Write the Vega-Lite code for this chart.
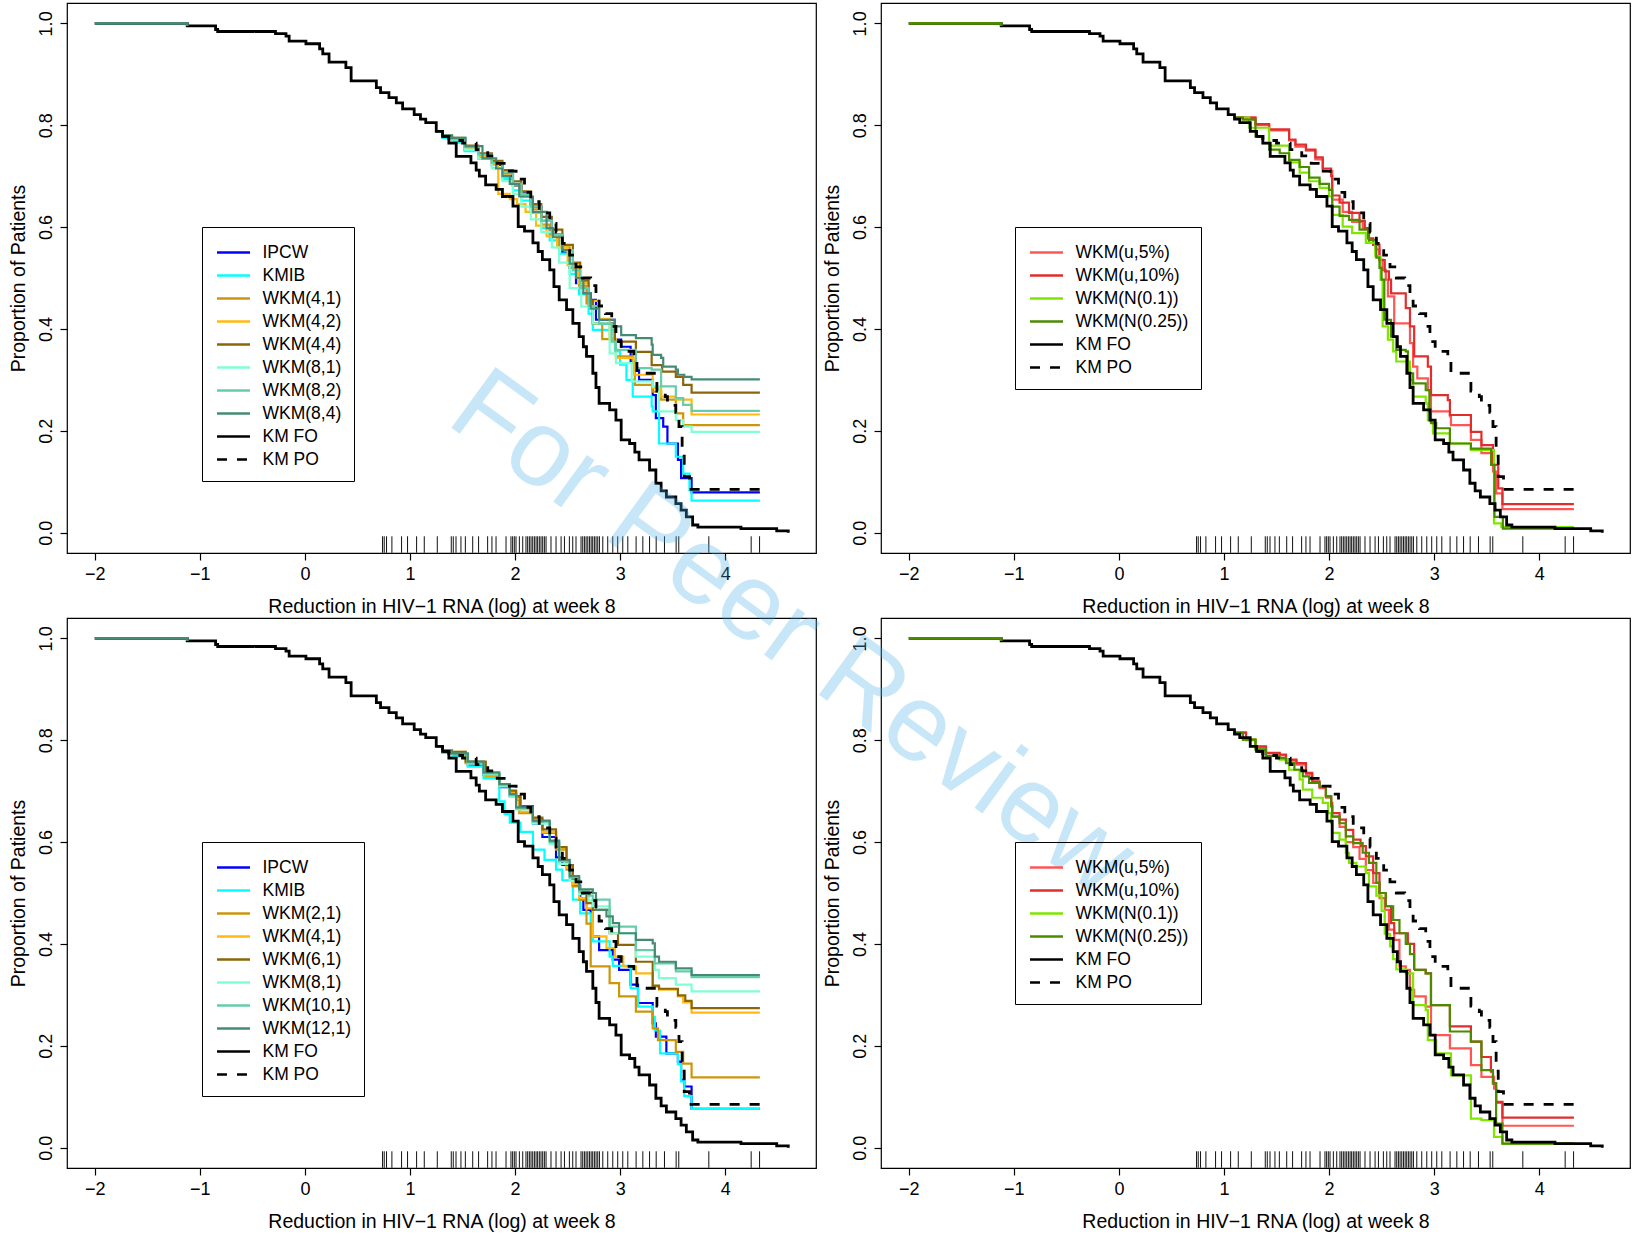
{
"$schema": "https://vega.github.io/schema/vega-lite/v6.json",
"padding": {"left": 7, "top": 2, "right": 5, "bottom": 5},
"background": "white",
"bounds": "flush",
"spacing": 65,
"columns": 2,
"config": {
 "font": "Liberation Sans",
 "view": {"stroke": "#000000", "strokeWidth": 1.2},
 "axis": {"domain": false, "grid": false, "tickColor": "#000000", "tickSize": 7, "tickWidth": 1.2, "labelColor": "#000000", "labelFont": "Liberation Sans", "labelFontSize": 18, "titleFont": "Liberation Sans", "titleFontSize": 19.5, "titleFontWeight": "normal", "titleColor": "#000000", "labelFlush": false},
 "legend": {"strokeColor": "#000000", "strokeWidth": 1, "fillColor": "transparent", "padding": 12.5, "symbolSize": 529, "symbolStrokeWidth": 2.6, "symbolOffset": 6, "labelOffset": 16, "rowPadding": 1, "labelFont": "Liberation Sans", "labelFontSize": 17.5, "labelColor": "#000000", "labelLimit": 300}
},
"resolve": {"scale": {"color": "independent", "strokeDash": "independent"}, "legend": {"color": "independent", "strokeDash": "independent"}},
"datasets": {
"rug": [{"x":0.739},{"x":0.755},{"x":0.777},{"x":0.828},{"x":0.92},{"x":0.977},{"x":1.063},{"x":1.136},{"x":1.26},{"x":1.393},{"x":1.412},{"x":1.438},{"x":1.485},{"x":1.527},{"x":1.597},{"x":1.653},{"x":1.739},{"x":1.78},{"x":1.819},{"x":1.914},{"x":1.961},{"x":1.977},{"x":1.993},{"x":2.009},{"x":2.041},{"x":2.073},{"x":2.104},{"x":2.12},{"x":2.136},{"x":2.152},{"x":2.168},{"x":2.184},{"x":2.2},{"x":2.215},{"x":2.231},{"x":2.247},{"x":2.263},{"x":2.279},{"x":2.295},{"x":2.342},{"x":2.39},{"x":2.438},{"x":2.47},{"x":2.517},{"x":2.549},{"x":2.58},{"x":2.628},{"x":2.644},{"x":2.66},{"x":2.676},{"x":2.692},{"x":2.708},{"x":2.724},{"x":2.739},{"x":2.755},{"x":2.771},{"x":2.787},{"x":2.803},{"x":2.835},{"x":2.882},{"x":2.93},{"x":2.977},{"x":3.025},{"x":3.073},{"x":3.152},{"x":3.216},{"x":3.28},{"x":3.343},{"x":3.422},{"x":3.533},{"x":3.558},{"x":3.844},{"x":4.247},{"x":4.327}],
"wm": [{"t": "For Peer Review"}],
"base": [
{"s":"KM FO","x":-2,"y":1},{"s":"KM FO","x":-1.12,"y":0.995},{"s":"KM FO","x":-0.85,"y":0.988},{"s":"KM FO","x":-0.83,"y":0.984},{"s":"KM FO","x":-0.28,"y":0.98},{"s":"KM FO","x":-0.18,"y":0.975},{"s":"KM FO","x":-0.15,"y":0.965},{"s":"KM FO","x":0.01,"y":0.96},{"s":"KM FO","x":0.14,"y":0.95},{"s":"KM FO","x":0.17,"y":0.94},{"s":"KM FO","x":0.23,"y":0.924},{"s":"KM FO","x":0.39,"y":0.913},{"s":"KM FO","x":0.44,"y":0.887},{"s":"KM FO","x":0.68,"y":0.874},{"s":"KM FO","x":0.72,"y":0.864},{"s":"KM FO","x":0.8,"y":0.854},{"s":"KM FO","x":0.87,"y":0.844},{"s":"KM FO","x":0.93,"y":0.832},{"s":"KM FO","x":1.04,"y":0.821},{"s":"KM FO","x":1.1,"y":0.812},{"s":"KM FO","x":1.15,"y":0.805},{"s":"KM FO","x":1.25,"y":0.788},{"s":"KM FO","x":1.31,"y":0.778},{"s":"KM FO","x":1.37,"y":0.765},{"s":"KM FO","x":1.44,"y":0.739},{"s":"KM FO","x":1.58,"y":0.726},{"s":"KM FO","x":1.63,"y":0.712},{"s":"KM FO","x":1.66,"y":0.7},{"s":"KM FO","x":1.72,"y":0.683},{"s":"KM FO","x":1.82,"y":0.674},{"s":"KM FO","x":1.88,"y":0.66},{"s":"KM FO","x":1.98,"y":0.641},{"s":"KM FO","x":2.03,"y":0.601},{"s":"KM FO","x":2.09,"y":0.592},{"s":"KM FO","x":2.17,"y":0.569},{"s":"KM FO","x":2.22,"y":0.552},{"s":"KM FO","x":2.26,"y":0.536},{"s":"KM FO","x":2.33,"y":0.516},{"s":"KM FO","x":2.37,"y":0.483},{"s":"KM FO","x":2.42,"y":0.457},{"s":"KM FO","x":2.49,"y":0.438},{"s":"KM FO","x":2.55,"y":0.411},{"s":"KM FO","x":2.61,"y":0.385},{"s":"KM FO","x":2.65,"y":0.365},{"s":"KM FO","x":2.68,"y":0.346},{"s":"KM FO","x":2.74,"y":0.313},{"s":"KM FO","x":2.77,"y":0.285},{"s":"KM FO","x":2.8,"y":0.254},{"s":"KM FO","x":2.9,"y":0.241},{"s":"KM FO","x":2.96,"y":0.221},{"s":"KM FO","x":3.01,"y":0.182},{"s":"KM FO","x":3.09,"y":0.175},{"s":"KM FO","x":3.14,"y":0.158},{"s":"KM FO","x":3.18,"y":0.143},{"s":"KM FO","x":3.28,"y":0.123},{"s":"KM FO","x":3.34,"y":0.097},{"s":"KM FO","x":3.39,"y":0.082},{"s":"KM FO","x":3.44,"y":0.07},{"s":"KM FO","x":3.53,"y":0.057},{"s":"KM FO","x":3.58,"y":0.044},{"s":"KM FO","x":3.63,"y":0.031},{"s":"KM FO","x":3.69,"y":0.015},{"s":"KM FO","x":3.74,"y":0.011},{"s":"KM FO","x":4.15,"y":0.008},{"s":"KM FO","x":4.49,"y":0.0035},{"s":"KM FO","x":4.6,"y":0},
{"s":"KM PO","x":1.31,"y":0.778},{"s":"KM PO","x":1.37,"y":0.77},{"s":"KM PO","x":1.5,"y":0.765},{"s":"KM PO","x":1.63,"y":0.752},{"s":"KM PO","x":1.74,"y":0.74},{"s":"KM PO","x":1.83,"y":0.725},{"s":"KM PO","x":1.91,"y":0.71},{"s":"KM PO","x":2.01,"y":0.694},{"s":"KM PO","x":2.09,"y":0.668},{"s":"KM PO","x":2.15,"y":0.65},{"s":"KM PO","x":2.23,"y":0.628},{"s":"KM PO","x":2.33,"y":0.607},{"s":"KM PO","x":2.39,"y":0.59},{"s":"KM PO","x":2.45,"y":0.568},{"s":"KM PO","x":2.52,"y":0.545},{"s":"KM PO","x":2.58,"y":0.522},{"s":"KM PO","x":2.64,"y":0.5},{"s":"KM PO","x":2.72,"y":0.485},{"s":"KM PO","x":2.77,"y":0.465},{"s":"KM PO","x":2.8,"y":0.445},{"s":"KM PO","x":2.86,"y":0.43},{"s":"KM PO","x":2.92,"y":0.405},{"s":"KM PO","x":2.96,"y":0.375},{"s":"KM PO","x":3.01,"y":0.356},{"s":"KM PO","x":3.13,"y":0.345},{"s":"KM PO","x":3.16,"y":0.313},{"s":"KM PO","x":3.35,"y":0.278},{"s":"KM PO","x":3.43,"y":0.267},{"s":"KM PO","x":3.45,"y":0.25},{"s":"KM PO","x":3.53,"y":0.236},{"s":"KM PO","x":3.56,"y":0.208},{"s":"KM PO","x":3.59,"y":0.15},{"s":"KM PO","x":3.61,"y":0.11},{"s":"KM PO","x":3.66,"y":0.085},{"s":"KM PO","x":4.33,"y":0.085}
],
"tl": [
{"s":"IPCW","x":1.25,"y":0.788},{"s":"IPCW","x":1.31,"y":0.776},{"s":"IPCW","x":1.4,"y":0.768},{"s":"IPCW","x":1.52,"y":0.752},{"s":"IPCW","x":1.65,"y":0.738},{"s":"IPCW","x":1.78,"y":0.722},{"s":"IPCW","x":1.88,"y":0.7},{"s":"IPCW","x":1.98,"y":0.682},{"s":"IPCW","x":2.06,"y":0.668},{"s":"IPCW","x":2.15,"y":0.64},{"s":"IPCW","x":2.25,"y":0.612},{"s":"IPCW","x":2.35,"y":0.585},{"s":"IPCW","x":2.45,"y":0.55},{"s":"IPCW","x":2.52,"y":0.52},{"s":"IPCW","x":2.58,"y":0.49},{"s":"IPCW","x":2.61,"y":0.47},{"s":"IPCW","x":2.72,"y":0.457},{"s":"IPCW","x":2.77,"y":0.418},{"s":"IPCW","x":2.95,"y":0.379},{"s":"IPCW","x":3.01,"y":0.365},{"s":"IPCW","x":3.1,"y":0.336},{"s":"IPCW","x":3.14,"y":0.32},{"s":"IPCW","x":3.18,"y":0.3},{"s":"IPCW","x":3.31,"y":0.27},{"s":"IPCW","x":3.34,"y":0.225},{"s":"IPCW","x":3.41,"y":0.208},{"s":"IPCW","x":3.45,"y":0.175},{"s":"IPCW","x":3.55,"y":0.143},{"s":"IPCW","x":3.58,"y":0.107},{"s":"IPCW","x":3.68,"y":0.079},{"s":"IPCW","x":4.33,"y":0.079},
{"s":"KMIB","x":1.25,"y":0.788},{"s":"KMIB","x":1.31,"y":0.775},{"s":"KMIB","x":1.4,"y":0.766},{"s":"KMIB","x":1.52,"y":0.749},{"s":"KMIB","x":1.65,"y":0.734},{"s":"KMIB","x":1.78,"y":0.716},{"s":"KMIB","x":1.88,"y":0.694},{"s":"KMIB","x":1.98,"y":0.672},{"s":"KMIB","x":2.06,"y":0.652},{"s":"KMIB","x":2.15,"y":0.628},{"s":"KMIB","x":2.25,"y":0.598},{"s":"KMIB","x":2.33,"y":0.574},{"s":"KMIB","x":2.42,"y":0.548},{"s":"KMIB","x":2.52,"y":0.508},{"s":"KMIB","x":2.61,"y":0.468},{"s":"KMIB","x":2.7,"y":0.43},{"s":"KMIB","x":2.74,"y":0.398},{"s":"KMIB","x":2.95,"y":0.356},{"s":"KMIB","x":3.0,"y":0.33},{"s":"KMIB","x":3.06,"y":0.3},{"s":"KMIB","x":3.12,"y":0.267},{"s":"KMIB","x":3.3,"y":0.248},{"s":"KMIB","x":3.31,"y":0.238},{"s":"KMIB","x":3.37,"y":0.175},{"s":"KMIB","x":3.53,"y":0.149},{"s":"KMIB","x":3.6,"y":0.116},{"s":"KMIB","x":3.66,"y":0.083},{"s":"KMIB","x":3.68,"y":0.063},{"s":"KMIB","x":4.33,"y":0.063},
{"s":"WKM(4,1)","x":1.25,"y":0.788},{"s":"WKM(4,1)","x":1.31,"y":0.779},{"s":"WKM(4,1)","x":1.4,"y":0.772},{"s":"WKM(4,1)","x":1.52,"y":0.755},{"s":"WKM(4,1)","x":1.65,"y":0.742},{"s":"WKM(4,1)","x":1.78,"y":0.725},{"s":"WKM(4,1)","x":1.88,"y":0.705},{"s":"WKM(4,1)","x":1.98,"y":0.682},{"s":"WKM(4,1)","x":2.06,"y":0.66},{"s":"WKM(4,1)","x":2.15,"y":0.635},{"s":"WKM(4,1)","x":2.25,"y":0.605},{"s":"WKM(4,1)","x":2.33,"y":0.585},{"s":"WKM(4,1)","x":2.42,"y":0.56},{"s":"WKM(4,1)","x":2.52,"y":0.52},{"s":"WKM(4,1)","x":2.61,"y":0.485},{"s":"WKM(4,1)","x":2.68,"y":0.45},{"s":"WKM(4,1)","x":2.74,"y":0.411},{"s":"WKM(4,1)","x":2.83,"y":0.38},{"s":"WKM(4,1)","x":2.96,"y":0.346},{"s":"WKM(4,1)","x":3.12,"y":0.333},{"s":"WKM(4,1)","x":3.14,"y":0.29},{"s":"WKM(4,1)","x":3.31,"y":0.277},{"s":"WKM(4,1)","x":3.39,"y":0.261},{"s":"WKM(4,1)","x":3.53,"y":0.234},{"s":"WKM(4,1)","x":3.6,"y":0.211},{"s":"WKM(4,1)","x":4.33,"y":0.211},
{"s":"WKM(4,2)","x":1.25,"y":0.788},{"s":"WKM(4,2)","x":1.31,"y":0.779},{"s":"WKM(4,2)","x":1.4,"y":0.772},{"s":"WKM(4,2)","x":1.52,"y":0.755},{"s":"WKM(4,2)","x":1.65,"y":0.74},{"s":"WKM(4,2)","x":1.78,"y":0.722},{"s":"WKM(4,2)","x":1.84,"y":0.665},{"s":"WKM(4,2)","x":1.95,"y":0.655},{"s":"WKM(4,2)","x":2.02,"y":0.645},{"s":"WKM(4,2)","x":2.1,"y":0.63},{"s":"WKM(4,2)","x":2.2,"y":0.603},{"s":"WKM(4,2)","x":2.3,"y":0.582},{"s":"WKM(4,2)","x":2.4,"y":0.56},{"s":"WKM(4,2)","x":2.5,"y":0.525},{"s":"WKM(4,2)","x":2.6,"y":0.49},{"s":"WKM(4,2)","x":2.7,"y":0.455},{"s":"WKM(4,2)","x":2.8,"y":0.42},{"s":"WKM(4,2)","x":2.9,"y":0.38},{"s":"WKM(4,2)","x":2.96,"y":0.343},{"s":"WKM(4,2)","x":3.13,"y":0.31},{"s":"WKM(4,2)","x":3.31,"y":0.284},{"s":"WKM(4,2)","x":3.39,"y":0.267},{"s":"WKM(4,2)","x":3.53,"y":0.261},{"s":"WKM(4,2)","x":3.68,"y":0.232},{"s":"WKM(4,2)","x":4.33,"y":0.232},
{"s":"WKM(4,4)","x":1.25,"y":0.788},{"s":"WKM(4,4)","x":1.31,"y":0.779},{"s":"WKM(4,4)","x":1.4,"y":0.775},{"s":"WKM(4,4)","x":1.52,"y":0.76},{"s":"WKM(4,4)","x":1.65,"y":0.745},{"s":"WKM(4,4)","x":1.78,"y":0.73},{"s":"WKM(4,4)","x":1.88,"y":0.712},{"s":"WKM(4,4)","x":1.98,"y":0.69},{"s":"WKM(4,4)","x":2.06,"y":0.67},{"s":"WKM(4,4)","x":2.15,"y":0.645},{"s":"WKM(4,4)","x":2.25,"y":0.62},{"s":"WKM(4,4)","x":2.35,"y":0.595},{"s":"WKM(4,4)","x":2.45,"y":0.565},{"s":"WKM(4,4)","x":2.55,"y":0.53},{"s":"WKM(4,4)","x":2.62,"y":0.495},{"s":"WKM(4,4)","x":2.7,"y":0.455},{"s":"WKM(4,4)","x":2.74,"y":0.411},{"s":"WKM(4,4)","x":2.95,"y":0.375},{"s":"WKM(4,4)","x":3.15,"y":0.355},{"s":"WKM(4,4)","x":3.3,"y":0.329},{"s":"WKM(4,4)","x":3.4,"y":0.316},{"s":"WKM(4,4)","x":3.53,"y":0.306},{"s":"WKM(4,4)","x":3.6,"y":0.29},{"s":"WKM(4,4)","x":3.68,"y":0.275},{"s":"WKM(4,4)","x":4.33,"y":0.275},
{"s":"WKM(8,1)","x":1.25,"y":0.788},{"s":"WKM(8,1)","x":1.31,"y":0.777},{"s":"WKM(8,1)","x":1.4,"y":0.77},{"s":"WKM(8,1)","x":1.52,"y":0.752},{"s":"WKM(8,1)","x":1.65,"y":0.735},{"s":"WKM(8,1)","x":1.78,"y":0.715},{"s":"WKM(8,1)","x":1.88,"y":0.69},{"s":"WKM(8,1)","x":1.98,"y":0.665},{"s":"WKM(8,1)","x":2.06,"y":0.64},{"s":"WKM(8,1)","x":2.15,"y":0.615},{"s":"WKM(8,1)","x":2.25,"y":0.59},{"s":"WKM(8,1)","x":2.35,"y":0.56},{"s":"WKM(8,1)","x":2.42,"y":0.53},{"s":"WKM(8,1)","x":2.52,"y":0.48},{"s":"WKM(8,1)","x":2.63,"y":0.444},{"s":"WKM(8,1)","x":2.74,"y":0.411},{"s":"WKM(8,1)","x":2.9,"y":0.352},{"s":"WKM(8,1)","x":2.96,"y":0.333},{"s":"WKM(8,1)","x":3.11,"y":0.297},{"s":"WKM(8,1)","x":3.31,"y":0.287},{"s":"WKM(8,1)","x":3.37,"y":0.238},{"s":"WKM(8,1)","x":3.53,"y":0.221},{"s":"WKM(8,1)","x":3.6,"y":0.208},{"s":"WKM(8,1)","x":3.68,"y":0.198},{"s":"WKM(8,1)","x":4.33,"y":0.198},
{"s":"WKM(8,2)","x":1.25,"y":0.788},{"s":"WKM(8,2)","x":1.31,"y":0.779},{"s":"WKM(8,2)","x":1.4,"y":0.772},{"s":"WKM(8,2)","x":1.52,"y":0.757},{"s":"WKM(8,2)","x":1.65,"y":0.742},{"s":"WKM(8,2)","x":1.78,"y":0.726},{"s":"WKM(8,2)","x":1.88,"y":0.708},{"s":"WKM(8,2)","x":1.98,"y":0.685},{"s":"WKM(8,2)","x":2.06,"y":0.665},{"s":"WKM(8,2)","x":2.15,"y":0.64},{"s":"WKM(8,2)","x":2.25,"y":0.612},{"s":"WKM(8,2)","x":2.35,"y":0.585},{"s":"WKM(8,2)","x":2.45,"y":0.555},{"s":"WKM(8,2)","x":2.55,"y":0.515},{"s":"WKM(8,2)","x":2.62,"y":0.48},{"s":"WKM(8,2)","x":2.7,"y":0.445},{"s":"WKM(8,2)","x":2.8,"y":0.41},{"s":"WKM(8,2)","x":2.92,"y":0.375},{"s":"WKM(8,2)","x":2.96,"y":0.359},{"s":"WKM(8,2)","x":3.15,"y":0.323},{"s":"WKM(8,2)","x":3.3,"y":0.32},{"s":"WKM(8,2)","x":3.39,"y":0.287},{"s":"WKM(8,2)","x":3.53,"y":0.264},{"s":"WKM(8,2)","x":3.6,"y":0.251},{"s":"WKM(8,2)","x":3.68,"y":0.239},{"s":"WKM(8,2)","x":4.33,"y":0.239},
{"s":"WKM(8,4)","x":1.25,"y":0.788},{"s":"WKM(8,4)","x":1.31,"y":0.78},{"s":"WKM(8,4)","x":1.4,"y":0.775},{"s":"WKM(8,4)","x":1.53,"y":0.759},{"s":"WKM(8,4)","x":1.69,"y":0.735},{"s":"WKM(8,4)","x":1.82,"y":0.715},{"s":"WKM(8,4)","x":1.88,"y":0.7},{"s":"WKM(8,4)","x":1.95,"y":0.685},{"s":"WKM(8,4)","x":2.04,"y":0.66},{"s":"WKM(8,4)","x":2.17,"y":0.63},{"s":"WKM(8,4)","x":2.3,"y":0.598},{"s":"WKM(8,4)","x":2.36,"y":0.58},{"s":"WKM(8,4)","x":2.45,"y":0.555},{"s":"WKM(8,4)","x":2.52,"y":0.528},{"s":"WKM(8,4)","x":2.58,"y":0.5},{"s":"WKM(8,4)","x":2.65,"y":0.47},{"s":"WKM(8,4)","x":2.72,"y":0.44},{"s":"WKM(8,4)","x":2.8,"y":0.418},{"s":"WKM(8,4)","x":2.95,"y":0.405},{"s":"WKM(8,4)","x":3.01,"y":0.388},{"s":"WKM(8,4)","x":3.15,"y":0.382},{"s":"WKM(8,4)","x":3.3,"y":0.369},{"s":"WKM(8,4)","x":3.31,"y":0.349},{"s":"WKM(8,4)","x":3.39,"y":0.343},{"s":"WKM(8,4)","x":3.41,"y":0.326},{"s":"WKM(8,4)","x":3.53,"y":0.32},{"s":"WKM(8,4)","x":3.55,"y":0.31},{"s":"WKM(8,4)","x":3.61,"y":0.306},{"s":"WKM(8,4)","x":3.68,"y":0.301},{"s":"WKM(8,4)","x":4.33,"y":0.301}
],
"bl": [
{"s":"IPCW","x":1.25,"y":0.788},{"s":"IPCW","x":1.31,"y":0.776},{"s":"IPCW","x":1.4,"y":0.77},{"s":"IPCW","x":1.55,"y":0.752},{"s":"IPCW","x":1.7,"y":0.732},{"s":"IPCW","x":1.85,"y":0.708},{"s":"IPCW","x":1.95,"y":0.69},{"s":"IPCW","x":2.05,"y":0.67},{"s":"IPCW","x":2.17,"y":0.636},{"s":"IPCW","x":2.26,"y":0.61},{"s":"IPCW","x":2.39,"y":0.57},{"s":"IPCW","x":2.45,"y":0.555},{"s":"IPCW","x":2.55,"y":0.515},{"s":"IPCW","x":2.62,"y":0.487},{"s":"IPCW","x":2.65,"y":0.467},{"s":"IPCW","x":2.72,"y":0.461},{"s":"IPCW","x":2.74,"y":0.415},{"s":"IPCW","x":2.8,"y":0.388},{"s":"IPCW","x":2.93,"y":0.369},{"s":"IPCW","x":2.99,"y":0.349},{"s":"IPCW","x":3.1,"y":0.32},{"s":"IPCW","x":3.17,"y":0.284},{"s":"IPCW","x":3.31,"y":0.244},{"s":"IPCW","x":3.34,"y":0.218},{"s":"IPCW","x":3.44,"y":0.185},{"s":"IPCW","x":3.55,"y":0.169},{"s":"IPCW","x":3.58,"y":0.133},{"s":"IPCW","x":3.61,"y":0.12},{"s":"IPCW","x":3.68,"y":0.076},{"s":"IPCW","x":4.33,"y":0.076},
{"s":"KMIB","x":1.25,"y":0.788},{"s":"KMIB","x":1.31,"y":0.775},{"s":"KMIB","x":1.4,"y":0.768},{"s":"KMIB","x":1.55,"y":0.748},{"s":"KMIB","x":1.7,"y":0.725},{"s":"KMIB","x":1.85,"y":0.68},{"s":"KMIB","x":1.9,"y":0.655},{"s":"KMIB","x":1.95,"y":0.638},{"s":"KMIB","x":2.05,"y":0.62},{"s":"KMIB","x":2.17,"y":0.585},{"s":"KMIB","x":2.28,"y":0.565},{"s":"KMIB","x":2.39,"y":0.546},{"s":"KMIB","x":2.45,"y":0.525},{"s":"KMIB","x":2.55,"y":0.487},{"s":"KMIB","x":2.62,"y":0.46},{"s":"KMIB","x":2.72,"y":0.441},{"s":"KMIB","x":2.74,"y":0.405},{"s":"KMIB","x":2.9,"y":0.375},{"s":"KMIB","x":2.93,"y":0.357},{"s":"KMIB","x":3.1,"y":0.313},{"s":"KMIB","x":3.17,"y":0.277},{"s":"KMIB","x":3.31,"y":0.257},{"s":"KMIB","x":3.33,"y":0.23},{"s":"KMIB","x":3.38,"y":0.185},{"s":"KMIB","x":3.55,"y":0.164},{"s":"KMIB","x":3.58,"y":0.13},{"s":"KMIB","x":3.61,"y":0.101},{"s":"KMIB","x":3.68,"y":0.076},{"s":"KMIB","x":4.33,"y":0.076},
{"s":"WKM(2,1)","x":1.25,"y":0.788},{"s":"WKM(2,1)","x":1.31,"y":0.78},{"s":"WKM(2,1)","x":1.37,"y":0.775},{"s":"WKM(2,1)","x":1.53,"y":0.755},{"s":"WKM(2,1)","x":1.72,"y":0.729},{"s":"WKM(2,1)","x":1.85,"y":0.709},{"s":"WKM(2,1)","x":1.95,"y":0.697},{"s":"WKM(2,1)","x":2.01,"y":0.683},{"s":"WKM(2,1)","x":2.04,"y":0.657},{"s":"WKM(2,1)","x":2.17,"y":0.644},{"s":"WKM(2,1)","x":2.26,"y":0.618},{"s":"WKM(2,1)","x":2.39,"y":0.585},{"s":"WKM(2,1)","x":2.49,"y":0.546},{"s":"WKM(2,1)","x":2.55,"y":0.513},{"s":"WKM(2,1)","x":2.61,"y":0.487},{"s":"WKM(2,1)","x":2.68,"y":0.44},{"s":"WKM(2,1)","x":2.72,"y":0.356},{"s":"WKM(2,1)","x":2.9,"y":0.323},{"s":"WKM(2,1)","x":2.99,"y":0.297},{"s":"WKM(2,1)","x":3.15,"y":0.267},{"s":"WKM(2,1)","x":3.31,"y":0.234},{"s":"WKM(2,1)","x":3.36,"y":0.211},{"s":"WKM(2,1)","x":3.53,"y":0.188},{"s":"WKM(2,1)","x":3.6,"y":0.165},{"s":"WKM(2,1)","x":3.68,"y":0.138},{"s":"WKM(2,1)","x":4.33,"y":0.138},
{"s":"WKM(4,1)","x":1.25,"y":0.788},{"s":"WKM(4,1)","x":1.31,"y":0.78},{"s":"WKM(4,1)","x":1.37,"y":0.777},{"s":"WKM(4,1)","x":1.53,"y":0.757},{"s":"WKM(4,1)","x":1.72,"y":0.731},{"s":"WKM(4,1)","x":1.85,"y":0.711},{"s":"WKM(4,1)","x":1.95,"y":0.699},{"s":"WKM(4,1)","x":2.01,"y":0.686},{"s":"WKM(4,1)","x":2.05,"y":0.66},{"s":"WKM(4,1)","x":2.17,"y":0.645},{"s":"WKM(4,1)","x":2.26,"y":0.62},{"s":"WKM(4,1)","x":2.39,"y":0.588},{"s":"WKM(4,1)","x":2.49,"y":0.55},{"s":"WKM(4,1)","x":2.55,"y":0.518},{"s":"WKM(4,1)","x":2.61,"y":0.49},{"s":"WKM(4,1)","x":2.68,"y":0.47},{"s":"WKM(4,1)","x":2.74,"y":0.415},{"s":"WKM(4,1)","x":2.87,"y":0.392},{"s":"WKM(4,1)","x":2.95,"y":0.375},{"s":"WKM(4,1)","x":3.03,"y":0.356},{"s":"WKM(4,1)","x":3.15,"y":0.342},{"s":"WKM(4,1)","x":3.31,"y":0.316},{"s":"WKM(4,1)","x":3.37,"y":0.31},{"s":"WKM(4,1)","x":3.55,"y":0.297},{"s":"WKM(4,1)","x":3.6,"y":0.285},{"s":"WKM(4,1)","x":3.68,"y":0.265},{"s":"WKM(4,1)","x":4.33,"y":0.265},
{"s":"WKM(6,1)","x":1.25,"y":0.788},{"s":"WKM(6,1)","x":1.31,"y":0.78},{"s":"WKM(6,1)","x":1.37,"y":0.777},{"s":"WKM(6,1)","x":1.53,"y":0.758},{"s":"WKM(6,1)","x":1.72,"y":0.733},{"s":"WKM(6,1)","x":1.85,"y":0.713},{"s":"WKM(6,1)","x":1.95,"y":0.701},{"s":"WKM(6,1)","x":2.01,"y":0.689},{"s":"WKM(6,1)","x":2.05,"y":0.665},{"s":"WKM(6,1)","x":2.17,"y":0.648},{"s":"WKM(6,1)","x":2.26,"y":0.625},{"s":"WKM(6,1)","x":2.39,"y":0.59},{"s":"WKM(6,1)","x":2.49,"y":0.555},{"s":"WKM(6,1)","x":2.55,"y":0.525},{"s":"WKM(6,1)","x":2.61,"y":0.5},{"s":"WKM(6,1)","x":2.68,"y":0.48},{"s":"WKM(6,1)","x":2.74,"y":0.467},{"s":"WKM(6,1)","x":2.9,"y":0.421},{"s":"WKM(6,1)","x":2.98,"y":0.398},{"s":"WKM(6,1)","x":3.15,"y":0.365},{"s":"WKM(6,1)","x":3.31,"y":0.318},{"s":"WKM(6,1)","x":3.37,"y":0.312},{"s":"WKM(6,1)","x":3.55,"y":0.299},{"s":"WKM(6,1)","x":3.62,"y":0.288},{"s":"WKM(6,1)","x":3.68,"y":0.274},{"s":"WKM(6,1)","x":4.33,"y":0.274},
{"s":"WKM(8,1)","x":1.25,"y":0.788},{"s":"WKM(8,1)","x":1.31,"y":0.779},{"s":"WKM(8,1)","x":1.4,"y":0.772},{"s":"WKM(8,1)","x":1.55,"y":0.754},{"s":"WKM(8,1)","x":1.7,"y":0.733},{"s":"WKM(8,1)","x":1.85,"y":0.71},{"s":"WKM(8,1)","x":1.95,"y":0.69},{"s":"WKM(8,1)","x":2.01,"y":0.664},{"s":"WKM(8,1)","x":2.17,"y":0.636},{"s":"WKM(8,1)","x":2.33,"y":0.596},{"s":"WKM(8,1)","x":2.42,"y":0.557},{"s":"WKM(8,1)","x":2.52,"y":0.524},{"s":"WKM(8,1)","x":2.61,"y":0.498},{"s":"WKM(8,1)","x":2.7,"y":0.485},{"s":"WKM(8,1)","x":2.74,"y":0.474},{"s":"WKM(8,1)","x":2.9,"y":0.421},{"s":"WKM(8,1)","x":3.15,"y":0.375},{"s":"WKM(8,1)","x":3.33,"y":0.349},{"s":"WKM(8,1)","x":3.37,"y":0.333},{"s":"WKM(8,1)","x":3.53,"y":0.32},{"s":"WKM(8,1)","x":3.68,"y":0.307},{"s":"WKM(8,1)","x":4.33,"y":0.307},
{"s":"WKM(10,1)","x":1.25,"y":0.788},{"s":"WKM(10,1)","x":1.31,"y":0.779},{"s":"WKM(10,1)","x":1.4,"y":0.773},{"s":"WKM(10,1)","x":1.55,"y":0.756},{"s":"WKM(10,1)","x":1.7,"y":0.735},{"s":"WKM(10,1)","x":1.85,"y":0.712},{"s":"WKM(10,1)","x":1.95,"y":0.692},{"s":"WKM(10,1)","x":2.01,"y":0.666},{"s":"WKM(10,1)","x":2.17,"y":0.64},{"s":"WKM(10,1)","x":2.33,"y":0.6},{"s":"WKM(10,1)","x":2.42,"y":0.562},{"s":"WKM(10,1)","x":2.52,"y":0.53},{"s":"WKM(10,1)","x":2.61,"y":0.503},{"s":"WKM(10,1)","x":2.7,"y":0.495},{"s":"WKM(10,1)","x":2.74,"y":0.487},{"s":"WKM(10,1)","x":2.9,"y":0.434},{"s":"WKM(10,1)","x":3.15,"y":0.388},{"s":"WKM(10,1)","x":3.33,"y":0.362},{"s":"WKM(10,1)","x":3.53,"y":0.346},{"s":"WKM(10,1)","x":3.68,"y":0.335},{"s":"WKM(10,1)","x":4.33,"y":0.335},
{"s":"WKM(12,1)","x":1.25,"y":0.788},{"s":"WKM(12,1)","x":1.31,"y":0.78},{"s":"WKM(12,1)","x":1.4,"y":0.774},{"s":"WKM(12,1)","x":1.55,"y":0.758},{"s":"WKM(12,1)","x":1.7,"y":0.737},{"s":"WKM(12,1)","x":1.85,"y":0.714},{"s":"WKM(12,1)","x":1.95,"y":0.694},{"s":"WKM(12,1)","x":2.01,"y":0.668},{"s":"WKM(12,1)","x":2.17,"y":0.642},{"s":"WKM(12,1)","x":2.33,"y":0.603},{"s":"WKM(12,1)","x":2.42,"y":0.565},{"s":"WKM(12,1)","x":2.52,"y":0.533},{"s":"WKM(12,1)","x":2.61,"y":0.507},{"s":"WKM(12,1)","x":2.74,"y":0.5},{"s":"WKM(12,1)","x":2.77,"y":0.467},{"s":"WKM(12,1)","x":2.87,"y":0.454},{"s":"WKM(12,1)","x":2.93,"y":0.441},{"s":"WKM(12,1)","x":2.99,"y":0.421},{"s":"WKM(12,1)","x":3.15,"y":0.408},{"s":"WKM(12,1)","x":3.31,"y":0.401},{"s":"WKM(12,1)","x":3.33,"y":0.375},{"s":"WKM(12,1)","x":3.37,"y":0.365},{"s":"WKM(12,1)","x":3.53,"y":0.352},{"s":"WKM(12,1)","x":3.68,"y":0.339},{"s":"WKM(12,1)","x":4.33,"y":0.339}
],
"tr": [
{"s":"WKM(u,5%)","x":1.1,"y":0.815},{"s":"WKM(u,5%)","x":1.3,"y":0.8},{"s":"WKM(u,5%)","x":1.43,"y":0.79},{"s":"WKM(u,5%)","x":1.62,"y":0.77},{"s":"WKM(u,5%)","x":1.68,"y":0.758},{"s":"WKM(u,5%)","x":1.78,"y":0.75},{"s":"WKM(u,5%)","x":1.87,"y":0.733},{"s":"WKM(u,5%)","x":1.94,"y":0.71},{"s":"WKM(u,5%)","x":2.03,"y":0.654},{"s":"WKM(u,5%)","x":2.13,"y":0.63},{"s":"WKM(u,5%)","x":2.22,"y":0.61},{"s":"WKM(u,5%)","x":2.32,"y":0.597},{"s":"WKM(u,5%)","x":2.38,"y":0.569},{"s":"WKM(u,5%)","x":2.44,"y":0.556},{"s":"WKM(u,5%)","x":2.48,"y":0.536},{"s":"WKM(u,5%)","x":2.51,"y":0.516},{"s":"WKM(u,5%)","x":2.54,"y":0.497},{"s":"WKM(u,5%)","x":2.56,"y":0.464},{"s":"WKM(u,5%)","x":2.62,"y":0.411},{"s":"WKM(u,5%)","x":2.77,"y":0.372},{"s":"WKM(u,5%)","x":2.8,"y":0.326},{"s":"WKM(u,5%)","x":2.84,"y":0.303},{"s":"WKM(u,5%)","x":2.94,"y":0.28},{"s":"WKM(u,5%)","x":2.97,"y":0.238},{"s":"WKM(u,5%)","x":3.15,"y":0.228},{"s":"WKM(u,5%)","x":3.16,"y":0.211},{"s":"WKM(u,5%)","x":3.35,"y":0.182},{"s":"WKM(u,5%)","x":3.45,"y":0.156},{"s":"WKM(u,5%)","x":3.56,"y":0.12},{"s":"WKM(u,5%)","x":3.59,"y":0.077},{"s":"WKM(u,5%)","x":3.65,"y":0.046},{"s":"WKM(u,5%)","x":4.33,"y":0.046},
{"s":"WKM(u,10%)","x":1.1,"y":0.815},{"s":"WKM(u,10%)","x":1.3,"y":0.802},{"s":"WKM(u,10%)","x":1.43,"y":0.792},{"s":"WKM(u,10%)","x":1.62,"y":0.772},{"s":"WKM(u,10%)","x":1.68,"y":0.762},{"s":"WKM(u,10%)","x":1.78,"y":0.752},{"s":"WKM(u,10%)","x":1.87,"y":0.737},{"s":"WKM(u,10%)","x":1.94,"y":0.715},{"s":"WKM(u,10%)","x":2.02,"y":0.7},{"s":"WKM(u,10%)","x":2.03,"y":0.662},{"s":"WKM(u,10%)","x":2.1,"y":0.648},{"s":"WKM(u,10%)","x":2.19,"y":0.628},{"s":"WKM(u,10%)","x":2.29,"y":0.612},{"s":"WKM(u,10%)","x":2.34,"y":0.598},{"s":"WKM(u,10%)","x":2.37,"y":0.578},{"s":"WKM(u,10%)","x":2.42,"y":0.565},{"s":"WKM(u,10%)","x":2.48,"y":0.535},{"s":"WKM(u,10%)","x":2.53,"y":0.513},{"s":"WKM(u,10%)","x":2.57,"y":0.497},{"s":"WKM(u,10%)","x":2.59,"y":0.47},{"s":"WKM(u,10%)","x":2.73,"y":0.441},{"s":"WKM(u,10%)","x":2.77,"y":0.405},{"s":"WKM(u,10%)","x":2.81,"y":0.346},{"s":"WKM(u,10%)","x":2.94,"y":0.326},{"s":"WKM(u,10%)","x":2.97,"y":0.27},{"s":"WKM(u,10%)","x":3.13,"y":0.26},{"s":"WKM(u,10%)","x":3.15,"y":0.231},{"s":"WKM(u,10%)","x":3.35,"y":0.198},{"s":"WKM(u,10%)","x":3.45,"y":0.172},{"s":"WKM(u,10%)","x":3.56,"y":0.133},{"s":"WKM(u,10%)","x":3.61,"y":0.087},{"s":"WKM(u,10%)","x":3.65,"y":0.056},{"s":"WKM(u,10%)","x":4.33,"y":0.056},
{"s":"WKM(N(0.1))","x":1.1,"y":0.815},{"s":"WKM(N(0.1))","x":1.24,"y":0.795},{"s":"WKM(N(0.1))","x":1.43,"y":0.76},{"s":"WKM(N(0.1))","x":1.62,"y":0.727},{"s":"WKM(N(0.1))","x":1.72,"y":0.707},{"s":"WKM(N(0.1))","x":1.81,"y":0.69},{"s":"WKM(N(0.1))","x":1.91,"y":0.677},{"s":"WKM(N(0.1))","x":2.0,"y":0.66},{"s":"WKM(N(0.1))","x":2.03,"y":0.624},{"s":"WKM(N(0.1))","x":2.13,"y":0.601},{"s":"WKM(N(0.1))","x":2.22,"y":0.588},{"s":"WKM(N(0.1))","x":2.35,"y":0.569},{"s":"WKM(N(0.1))","x":2.44,"y":0.543},{"s":"WKM(N(0.1))","x":2.49,"y":0.497},{"s":"WKM(N(0.1))","x":2.51,"y":0.405},{"s":"WKM(N(0.1))","x":2.56,"y":0.379},{"s":"WKM(N(0.1))","x":2.61,"y":0.356},{"s":"WKM(N(0.1))","x":2.64,"y":0.336},{"s":"WKM(N(0.1))","x":2.77,"y":0.3},{"s":"WKM(N(0.1))","x":2.8,"y":0.267},{"s":"WKM(N(0.1))","x":2.92,"y":0.254},{"s":"WKM(N(0.1))","x":2.94,"y":0.221},{"s":"WKM(N(0.1))","x":2.99,"y":0.195},{"s":"WKM(N(0.1))","x":3.15,"y":0.175},{"s":"WKM(N(0.1))","x":3.35,"y":0.162},{"s":"WKM(N(0.1))","x":3.57,"y":0.018},{"s":"WKM(N(0.1))","x":3.64,"y":0.011},{"s":"WKM(N(0.1))","x":4.33,"y":0.011},
{"s":"WKM(N(0.25))","x":1.1,"y":0.815},{"s":"WKM(N(0.25))","x":1.18,"y":0.811},{"s":"WKM(N(0.25))","x":1.3,"y":0.778},{"s":"WKM(N(0.25))","x":1.37,"y":0.765},{"s":"WKM(N(0.25))","x":1.43,"y":0.752},{"s":"WKM(N(0.25))","x":1.53,"y":0.745},{"s":"WKM(N(0.25))","x":1.62,"y":0.732},{"s":"WKM(N(0.25))","x":1.72,"y":0.718},{"s":"WKM(N(0.25))","x":1.81,"y":0.697},{"s":"WKM(N(0.25))","x":1.91,"y":0.685},{"s":"WKM(N(0.25))","x":2.0,"y":0.673},{"s":"WKM(N(0.25))","x":2.03,"y":0.64},{"s":"WKM(N(0.25))","x":2.1,"y":0.622},{"s":"WKM(N(0.25))","x":2.19,"y":0.614},{"s":"WKM(N(0.25))","x":2.29,"y":0.595},{"s":"WKM(N(0.25))","x":2.38,"y":0.575},{"s":"WKM(N(0.25))","x":2.45,"y":0.54},{"s":"WKM(N(0.25))","x":2.48,"y":0.52},{"s":"WKM(N(0.25))","x":2.5,"y":0.497},{"s":"WKM(N(0.25))","x":2.526,"y":0.418},{"s":"WKM(N(0.25))","x":2.59,"y":0.385},{"s":"WKM(N(0.25))","x":2.64,"y":0.359},{"s":"WKM(N(0.25))","x":2.73,"y":0.356},{"s":"WKM(N(0.25))","x":2.75,"y":0.313},{"s":"WKM(N(0.25))","x":2.8,"y":0.293},{"s":"WKM(N(0.25))","x":2.92,"y":0.28},{"s":"WKM(N(0.25))","x":2.955,"y":0.241},{"s":"WKM(N(0.25))","x":2.97,"y":0.215},{"s":"WKM(N(0.25))","x":3.02,"y":0.205},{"s":"WKM(N(0.25))","x":3.15,"y":0.175},{"s":"WKM(N(0.25))","x":3.35,"y":0.165},{"s":"WKM(N(0.25))","x":3.542,"y":0.133},{"s":"WKM(N(0.25))","x":3.574,"y":0.031},{"s":"WKM(N(0.25))","x":3.654,"y":0.008},{"s":"WKM(N(0.25))","x":4.33,"y":0.008}
],
"br": [
{"s":"WKM(u,5%)","x":1.1,"y":0.815},{"s":"WKM(u,5%)","x":1.21,"y":0.8},{"s":"WKM(u,5%)","x":1.3,"y":0.787},{"s":"WKM(u,5%)","x":1.4,"y":0.774},{"s":"WKM(u,5%)","x":1.53,"y":0.77},{"s":"WKM(u,5%)","x":1.59,"y":0.76},{"s":"WKM(u,5%)","x":1.69,"y":0.752},{"s":"WKM(u,5%)","x":1.78,"y":0.733},{"s":"WKM(u,5%)","x":1.84,"y":0.716},{"s":"WKM(u,5%)","x":1.91,"y":0.706},{"s":"WKM(u,5%)","x":1.97,"y":0.687},{"s":"WKM(u,5%)","x":2.02,"y":0.672},{"s":"WKM(u,5%)","x":2.03,"y":0.65},{"s":"WKM(u,5%)","x":2.1,"y":0.63},{"s":"WKM(u,5%)","x":2.16,"y":0.6},{"s":"WKM(u,5%)","x":2.23,"y":0.59},{"s":"WKM(u,5%)","x":2.29,"y":0.567},{"s":"WKM(u,5%)","x":2.35,"y":0.545},{"s":"WKM(u,5%)","x":2.42,"y":0.52},{"s":"WKM(u,5%)","x":2.48,"y":0.49},{"s":"WKM(u,5%)","x":2.53,"y":0.467},{"s":"WKM(u,5%)","x":2.57,"y":0.428},{"s":"WKM(u,5%)","x":2.62,"y":0.408},{"s":"WKM(u,5%)","x":2.67,"y":0.356},{"s":"WKM(u,5%)","x":2.73,"y":0.349},{"s":"WKM(u,5%)","x":2.77,"y":0.31},{"s":"WKM(u,5%)","x":2.81,"y":0.297},{"s":"WKM(u,5%)","x":2.92,"y":0.277},{"s":"WKM(u,5%)","x":2.97,"y":0.221},{"s":"WKM(u,5%)","x":3.15,"y":0.195},{"s":"WKM(u,5%)","x":3.35,"y":0.162},{"s":"WKM(u,5%)","x":3.45,"y":0.139},{"s":"WKM(u,5%)","x":3.57,"y":0.116},{"s":"WKM(u,5%)","x":3.59,"y":0.088},{"s":"WKM(u,5%)","x":3.65,"y":0.043},{"s":"WKM(u,5%)","x":4.33,"y":0.043},
{"s":"WKM(u,10%)","x":1.1,"y":0.815},{"s":"WKM(u,10%)","x":1.21,"y":0.801},{"s":"WKM(u,10%)","x":1.3,"y":0.788},{"s":"WKM(u,10%)","x":1.4,"y":0.775},{"s":"WKM(u,10%)","x":1.53,"y":0.772},{"s":"WKM(u,10%)","x":1.59,"y":0.762},{"s":"WKM(u,10%)","x":1.69,"y":0.755},{"s":"WKM(u,10%)","x":1.78,"y":0.736},{"s":"WKM(u,10%)","x":1.84,"y":0.719},{"s":"WKM(u,10%)","x":1.91,"y":0.709},{"s":"WKM(u,10%)","x":1.97,"y":0.69},{"s":"WKM(u,10%)","x":2.02,"y":0.677},{"s":"WKM(u,10%)","x":2.03,"y":0.657},{"s":"WKM(u,10%)","x":2.1,"y":0.644},{"s":"WKM(u,10%)","x":2.16,"y":0.624},{"s":"WKM(u,10%)","x":2.23,"y":0.605},{"s":"WKM(u,10%)","x":2.3,"y":0.592},{"s":"WKM(u,10%)","x":2.35,"y":0.572},{"s":"WKM(u,10%)","x":2.42,"y":0.539},{"s":"WKM(u,10%)","x":2.48,"y":0.5},{"s":"WKM(u,10%)","x":2.54,"y":0.474},{"s":"WKM(u,10%)","x":2.59,"y":0.441},{"s":"WKM(u,10%)","x":2.62,"y":0.421},{"s":"WKM(u,10%)","x":2.75,"y":0.4},{"s":"WKM(u,10%)","x":2.81,"y":0.349},{"s":"WKM(u,10%)","x":2.92,"y":0.342},{"s":"WKM(u,10%)","x":2.97,"y":0.28},{"s":"WKM(u,10%)","x":3.15,"y":0.238},{"s":"WKM(u,10%)","x":3.35,"y":0.208},{"s":"WKM(u,10%)","x":3.45,"y":0.178},{"s":"WKM(u,10%)","x":3.54,"y":0.149},{"s":"WKM(u,10%)","x":3.56,"y":0.126},{"s":"WKM(u,10%)","x":3.59,"y":0.09},{"s":"WKM(u,10%)","x":3.65,"y":0.059},{"s":"WKM(u,10%)","x":4.33,"y":0.059},
{"s":"WKM(N(0.1))","x":1.1,"y":0.815},{"s":"WKM(N(0.1))","x":1.18,"y":0.801},{"s":"WKM(N(0.1))","x":1.3,"y":0.782},{"s":"WKM(N(0.1))","x":1.4,"y":0.769},{"s":"WKM(N(0.1))","x":1.53,"y":0.762},{"s":"WKM(N(0.1))","x":1.62,"y":0.742},{"s":"WKM(N(0.1))","x":1.72,"y":0.723},{"s":"WKM(N(0.1))","x":1.75,"y":0.703},{"s":"WKM(N(0.1))","x":1.84,"y":0.687},{"s":"WKM(N(0.1))","x":1.94,"y":0.677},{"s":"WKM(N(0.1))","x":1.99,"y":0.657},{"s":"WKM(N(0.1))","x":2.02,"y":0.637},{"s":"WKM(N(0.1))","x":2.03,"y":0.618},{"s":"WKM(N(0.1))","x":2.1,"y":0.605},{"s":"WKM(N(0.1))","x":2.16,"y":0.579},{"s":"WKM(N(0.1))","x":2.19,"y":0.559},{"s":"WKM(N(0.1))","x":2.26,"y":0.552},{"s":"WKM(N(0.1))","x":2.35,"y":0.539},{"s":"WKM(N(0.1))","x":2.38,"y":0.513},{"s":"WKM(N(0.1))","x":2.45,"y":0.495},{"s":"WKM(N(0.1))","x":2.5,"y":0.465},{"s":"WKM(N(0.1))","x":2.53,"y":0.42},{"s":"WKM(N(0.1))","x":2.58,"y":0.395},{"s":"WKM(N(0.1))","x":2.61,"y":0.37},{"s":"WKM(N(0.1))","x":2.64,"y":0.35},{"s":"WKM(N(0.1))","x":2.73,"y":0.342},{"s":"WKM(N(0.1))","x":2.8,"y":0.28},{"s":"WKM(N(0.1))","x":2.92,"y":0.27},{"s":"WKM(N(0.1))","x":2.94,"y":0.211},{"s":"WKM(N(0.1))","x":3.02,"y":0.185},{"s":"WKM(N(0.1))","x":3.16,"y":0.142},{"s":"WKM(N(0.1))","x":3.35,"y":0.057},{"s":"WKM(N(0.1))","x":3.45,"y":0.054},{"s":"WKM(N(0.1))","x":3.57,"y":0.021},{"s":"WKM(N(0.1))","x":3.65,"y":0.008},{"s":"WKM(N(0.1))","x":4.33,"y":0.008},
{"s":"WKM(N(0.25))","x":1.1,"y":0.815},{"s":"WKM(N(0.25))","x":1.18,"y":0.801},{"s":"WKM(N(0.25))","x":1.3,"y":0.782},{"s":"WKM(N(0.25))","x":1.4,"y":0.769},{"s":"WKM(N(0.25))","x":1.53,"y":0.765},{"s":"WKM(N(0.25))","x":1.59,"y":0.755},{"s":"WKM(N(0.25))","x":1.67,"y":0.742},{"s":"WKM(N(0.25))","x":1.75,"y":0.729},{"s":"WKM(N(0.25))","x":1.81,"y":0.716},{"s":"WKM(N(0.25))","x":1.91,"y":0.709},{"s":"WKM(N(0.25))","x":1.97,"y":0.69},{"s":"WKM(N(0.25))","x":2.02,"y":0.67},{"s":"WKM(N(0.25))","x":2.03,"y":0.65},{"s":"WKM(N(0.25))","x":2.1,"y":0.637},{"s":"WKM(N(0.25))","x":2.16,"y":0.611},{"s":"WKM(N(0.25))","x":2.23,"y":0.598},{"s":"WKM(N(0.25))","x":2.32,"y":0.579},{"s":"WKM(N(0.25))","x":2.38,"y":0.559},{"s":"WKM(N(0.25))","x":2.45,"y":0.52},{"s":"WKM(N(0.25))","x":2.48,"y":0.5},{"s":"WKM(N(0.25))","x":2.54,"y":0.474},{"s":"WKM(N(0.25))","x":2.61,"y":0.447},{"s":"WKM(N(0.25))","x":2.67,"y":0.421},{"s":"WKM(N(0.25))","x":2.73,"y":0.4},{"s":"WKM(N(0.25))","x":2.77,"y":0.38},{"s":"WKM(N(0.25))","x":2.81,"y":0.349},{"s":"WKM(N(0.25))","x":2.92,"y":0.342},{"s":"WKM(N(0.25))","x":2.97,"y":0.28},{"s":"WKM(N(0.25))","x":3.15,"y":0.228},{"s":"WKM(N(0.25))","x":3.35,"y":0.208},{"s":"WKM(N(0.25))","x":3.45,"y":0.152},{"s":"WKM(N(0.25))","x":3.56,"y":0.126},{"s":"WKM(N(0.25))","x":3.59,"y":0.047},{"s":"WKM(N(0.25))","x":3.65,"y":0.008},{"s":"WKM(N(0.25))","x":4.33,"y":0.008}
]
},
"concat": [
{
 "width": 749, "height": 550,
 "layer": [
  {"data": {"name": "rug"}, "mark": {"type": "rule", "color": "#111111", "strokeWidth": 1},
   "encoding": {
    "x": {"field": "x", "type": "quantitative", "scale": {"domain": [-2.264, 4.864], "nice": false, "zero": false}, "axis": {"values": [-2,-1,0,1,2,3,4], "format": "d", "labelPadding": 5, "titlePadding": 14}, "title": "Reduction in HIV−1 RNA (log) at week 8"},
    "y": {"datum": -0.0396, "type": "quantitative", "scale": {"domain": [-0.04, 1.04], "nice": false, "zero": false}, "axis": {"values": [0,0.2,0.4,0.6,0.8,1], "format": ".1f", "labelAngle": -90, "labelAlign": "center", "labelBaseline": "alphabetic", "labelPadding": 9, "titlePadding": 9}, "title": "Proportion of Patients"}, "y2": {"datum": -0.0072}}},
  {"data": {"name": "tl"}, "mark": {"type": "line", "interpolate": "step-after", "strokeWidth": 2.2},
   "encoding": {
    "x": {"field": "x", "type": "quantitative", "title": "Reduction in HIV−1 RNA (log) at week 8"},
    "y": {"field": "y", "type": "quantitative", "title": "Proportion of Patients"},
    "color": {"field": "s", "type": "nominal", "scale": {"domain": ["IPCW","KMIB","WKM(4,1)","WKM(4,2)","WKM(4,4)","WKM(8,1)","WKM(8,2)","WKM(8,4)","KM FO","KM PO"], "range": ["#0000FF","#00FFFF","#CD950C","#FFB90F","#8B6508","#7FFFD4","#66CDAA","#458B74","#000000","#000000"]}, "legend": {"title": null, "orient": "none", "legendX": 135, "legendY": 224, "symbolType": "M-1.435,0H1.435"}},
    "strokeDash": {"field": "s", "type": "nominal", "scale": {"domain": ["IPCW","KMIB","WKM(4,1)","WKM(4,2)","WKM(4,4)","WKM(8,1)","WKM(8,2)","WKM(8,4)","KM FO","KM PO"], "range": [[1,0],[1,0],[1,0],[1,0],[1,0],[1,0],[1,0],[1,0],[1,0],[10,10]]}, "legend": {"title": null, "orient": "none", "legendX": 135, "legendY": 224, "symbolType": "M-1.435,0H1.435"}}
   }},
  {"data": {"name": "base"}, "mark": {"type": "line", "interpolate": "step-after", "strokeWidth": 2.8},
   "encoding": {
    "x": {"field": "x", "type": "quantitative", "title": "Reduction in HIV−1 RNA (log) at week 8"},
    "y": {"field": "y", "type": "quantitative", "title": "Proportion of Patients"},
    "color": {"field": "s", "type": "nominal", "scale": {"domain": ["IPCW","KMIB","WKM(4,1)","WKM(4,2)","WKM(4,4)","WKM(8,1)","WKM(8,2)","WKM(8,4)","KM FO","KM PO"], "range": ["#0000FF","#00FFFF","#CD950C","#FFB90F","#8B6508","#7FFFD4","#66CDAA","#458B74","#000000","#000000"]}, "legend": {"title": null, "orient": "none", "legendX": 135, "legendY": 224, "symbolType": "M-1.435,0H1.435"}},
    "strokeDash": {"field": "s", "type": "nominal", "scale": {"domain": ["IPCW","KMIB","WKM(4,1)","WKM(4,2)","WKM(4,4)","WKM(8,1)","WKM(8,2)","WKM(8,4)","KM FO","KM PO"], "range": [[1,0],[1,0],[1,0],[1,0],[1,0],[1,0],[1,0],[1,0],[1,0],[10,10]]}, "legend": {"title": null, "orient": "none", "legendX": 135, "legendY": 224, "symbolType": "M-1.435,0H1.435"}}
   }},
  {"data": {"name": "base"}, "transform": [{"filter": "datum.s == 'KM FO' && datum.x <= -1.1"}], "mark": {"type": "line", "interpolate": "step-after", "strokeWidth": 2.8, "color": "#458B74"},
   "encoding": {"x": {"field": "x", "type": "quantitative", "title": "Reduction in HIV−1 RNA (log) at week 8"}, "y": {"field": "y", "type": "quantitative", "title": "Proportion of Patients"}}}
 ]
},
{
 "width": 749, "height": 550,
 "layer": [
  {"data": {"name": "rug"}, "mark": {"type": "rule", "color": "#111111", "strokeWidth": 1},
   "encoding": {
    "x": {"field": "x", "type": "quantitative", "scale": {"domain": [-2.264, 4.864], "nice": false, "zero": false}, "axis": {"values": [-2,-1,0,1,2,3,4], "format": "d", "labelPadding": 5, "titlePadding": 14}, "title": "Reduction in HIV−1 RNA (log) at week 8"},
    "y": {"datum": -0.0396, "type": "quantitative", "scale": {"domain": [-0.04, 1.04], "nice": false, "zero": false}, "axis": {"values": [0,0.2,0.4,0.6,0.8,1], "format": ".1f", "labelAngle": -90, "labelAlign": "center", "labelBaseline": "alphabetic", "labelPadding": 9, "titlePadding": 9}, "title": "Proportion of Patients"}, "y2": {"datum": -0.0072}}},
  {"data": {"name": "tr"}, "mark": {"type": "line", "interpolate": "step-after", "strokeWidth": 2.2},
   "encoding": {
    "x": {"field": "x", "type": "quantitative", "title": "Reduction in HIV−1 RNA (log) at week 8"},
    "y": {"field": "y", "type": "quantitative", "title": "Proportion of Patients"},
    "color": {"field": "s", "type": "nominal", "scale": {"domain": ["WKM(u,5%)","WKM(u,10%)","WKM(N(0.1))","WKM(N(0.25))","KM FO","KM PO"], "range": ["#FF5555","#E22D2D","#7FE600","#4B8B00","#000000","#000000"]}, "legend": {"title": null, "orient": "none", "legendX": 134, "legendY": 224, "symbolType": "M-1.435,0H1.435"}},
    "strokeDash": {"field": "s", "type": "nominal", "scale": {"domain": ["WKM(u,5%)","WKM(u,10%)","WKM(N(0.1))","WKM(N(0.25))","KM FO","KM PO"], "range": [[1,0],[1,0],[1,0],[1,0],[1,0],[10,10]]}, "legend": {"title": null, "orient": "none", "legendX": 134, "legendY": 224, "symbolType": "M-1.435,0H1.435"}}
   }},
  {"data": {"name": "base"}, "mark": {"type": "line", "interpolate": "step-after", "strokeWidth": 2.8},
   "encoding": {
    "x": {"field": "x", "type": "quantitative", "title": "Reduction in HIV−1 RNA (log) at week 8"},
    "y": {"field": "y", "type": "quantitative", "title": "Proportion of Patients"},
    "color": {"field": "s", "type": "nominal", "scale": {"domain": ["WKM(u,5%)","WKM(u,10%)","WKM(N(0.1))","WKM(N(0.25))","KM FO","KM PO"], "range": ["#FF5555","#E22D2D","#7FE600","#4B8B00","#000000","#000000"]}, "legend": {"title": null, "orient": "none", "legendX": 134, "legendY": 224, "symbolType": "M-1.435,0H1.435"}},
    "strokeDash": {"field": "s", "type": "nominal", "scale": {"domain": ["WKM(u,5%)","WKM(u,10%)","WKM(N(0.1))","WKM(N(0.25))","KM FO","KM PO"], "range": [[1,0],[1,0],[1,0],[1,0],[1,0],[10,10]]}, "legend": {"title": null, "orient": "none", "legendX": 134, "legendY": 224, "symbolType": "M-1.435,0H1.435"}}
   }},
  {"data": {"name": "base"}, "transform": [{"filter": "datum.s == 'KM FO' && datum.x <= -1.1"}], "mark": {"type": "line", "interpolate": "step-after", "strokeWidth": 2.8, "color": "#4B8B00"},
   "encoding": {"x": {"field": "x", "type": "quantitative", "title": "Reduction in HIV−1 RNA (log) at week 8"}, "y": {"field": "y", "type": "quantitative", "title": "Proportion of Patients"}}}
 ]
},
{
 "width": 749, "height": 550,
 "layer": [
  {"data": {"name": "rug"}, "mark": {"type": "rule", "color": "#111111", "strokeWidth": 1},
   "encoding": {
    "x": {"field": "x", "type": "quantitative", "scale": {"domain": [-2.264, 4.864], "nice": false, "zero": false}, "axis": {"values": [-2,-1,0,1,2,3,4], "format": "d", "labelPadding": 5, "titlePadding": 14}, "title": "Reduction in HIV−1 RNA (log) at week 8"},
    "y": {"datum": -0.0396, "type": "quantitative", "scale": {"domain": [-0.04, 1.04], "nice": false, "zero": false}, "axis": {"values": [0,0.2,0.4,0.6,0.8,1], "format": ".1f", "labelAngle": -90, "labelAlign": "center", "labelBaseline": "alphabetic", "labelPadding": 9, "titlePadding": 9}, "title": "Proportion of Patients"}, "y2": {"datum": -0.0072}}},
  {"data": {"name": "bl"}, "mark": {"type": "line", "interpolate": "step-after", "strokeWidth": 2.2},
   "encoding": {
    "x": {"field": "x", "type": "quantitative", "title": "Reduction in HIV−1 RNA (log) at week 8"},
    "y": {"field": "y", "type": "quantitative", "title": "Proportion of Patients"},
    "color": {"field": "s", "type": "nominal", "scale": {"domain": ["IPCW","KMIB","WKM(2,1)","WKM(4,1)","WKM(6,1)","WKM(8,1)","WKM(10,1)","WKM(12,1)","KM FO","KM PO"], "range": ["#0000FF","#00FFFF","#CD950C","#FFB90F","#8B6508","#7FFFD4","#66CDAA","#458B74","#000000","#000000"]}, "legend": {"title": null, "orient": "none", "legendX": 135, "legendY": 224, "symbolType": "M-1.435,0H1.435"}},
    "strokeDash": {"field": "s", "type": "nominal", "scale": {"domain": ["IPCW","KMIB","WKM(2,1)","WKM(4,1)","WKM(6,1)","WKM(8,1)","WKM(10,1)","WKM(12,1)","KM FO","KM PO"], "range": [[1,0],[1,0],[1,0],[1,0],[1,0],[1,0],[1,0],[1,0],[1,0],[10,10]]}, "legend": {"title": null, "orient": "none", "legendX": 135, "legendY": 224, "symbolType": "M-1.435,0H1.435"}}
   }},
  {"data": {"name": "base"}, "mark": {"type": "line", "interpolate": "step-after", "strokeWidth": 2.8},
   "encoding": {
    "x": {"field": "x", "type": "quantitative", "title": "Reduction in HIV−1 RNA (log) at week 8"},
    "y": {"field": "y", "type": "quantitative", "title": "Proportion of Patients"},
    "color": {"field": "s", "type": "nominal", "scale": {"domain": ["IPCW","KMIB","WKM(2,1)","WKM(4,1)","WKM(6,1)","WKM(8,1)","WKM(10,1)","WKM(12,1)","KM FO","KM PO"], "range": ["#0000FF","#00FFFF","#CD950C","#FFB90F","#8B6508","#7FFFD4","#66CDAA","#458B74","#000000","#000000"]}, "legend": {"title": null, "orient": "none", "legendX": 135, "legendY": 224, "symbolType": "M-1.435,0H1.435"}},
    "strokeDash": {"field": "s", "type": "nominal", "scale": {"domain": ["IPCW","KMIB","WKM(2,1)","WKM(4,1)","WKM(6,1)","WKM(8,1)","WKM(10,1)","WKM(12,1)","KM FO","KM PO"], "range": [[1,0],[1,0],[1,0],[1,0],[1,0],[1,0],[1,0],[1,0],[1,0],[10,10]]}, "legend": {"title": null, "orient": "none", "legendX": 135, "legendY": 224, "symbolType": "M-1.435,0H1.435"}}
   }},
  {"data": {"name": "base"}, "transform": [{"filter": "datum.s == 'KM FO' && datum.x <= -1.1"}], "mark": {"type": "line", "interpolate": "step-after", "strokeWidth": 2.8, "color": "#458B74"},
   "encoding": {"x": {"field": "x", "type": "quantitative", "title": "Reduction in HIV−1 RNA (log) at week 8"}, "y": {"field": "y", "type": "quantitative", "title": "Proportion of Patients"}}}
 ]
},
{
 "width": 749, "height": 550,
 "layer": [
  {"data": {"name": "rug"}, "mark": {"type": "rule", "color": "#111111", "strokeWidth": 1},
   "encoding": {
    "x": {"field": "x", "type": "quantitative", "scale": {"domain": [-2.264, 4.864], "nice": false, "zero": false}, "axis": {"values": [-2,-1,0,1,2,3,4], "format": "d", "labelPadding": 5, "titlePadding": 14}, "title": "Reduction in HIV−1 RNA (log) at week 8"},
    "y": {"datum": -0.0396, "type": "quantitative", "scale": {"domain": [-0.04, 1.04], "nice": false, "zero": false}, "axis": {"values": [0,0.2,0.4,0.6,0.8,1], "format": ".1f", "labelAngle": -90, "labelAlign": "center", "labelBaseline": "alphabetic", "labelPadding": 9, "titlePadding": 9}, "title": "Proportion of Patients"}, "y2": {"datum": -0.0072}}},
  {"data": {"name": "br"}, "mark": {"type": "line", "interpolate": "step-after", "strokeWidth": 2.2},
   "encoding": {
    "x": {"field": "x", "type": "quantitative", "title": "Reduction in HIV−1 RNA (log) at week 8"},
    "y": {"field": "y", "type": "quantitative", "title": "Proportion of Patients"},
    "color": {"field": "s", "type": "nominal", "scale": {"domain": ["WKM(u,5%)","WKM(u,10%)","WKM(N(0.1))","WKM(N(0.25))","KM FO","KM PO"], "range": ["#FF5555","#E22D2D","#7FE600","#4B8B00","#000000","#000000"]}, "legend": {"title": null, "orient": "none", "legendX": 134, "legendY": 224, "symbolType": "M-1.435,0H1.435"}},
    "strokeDash": {"field": "s", "type": "nominal", "scale": {"domain": ["WKM(u,5%)","WKM(u,10%)","WKM(N(0.1))","WKM(N(0.25))","KM FO","KM PO"], "range": [[1,0],[1,0],[1,0],[1,0],[1,0],[10,10]]}, "legend": {"title": null, "orient": "none", "legendX": 134, "legendY": 224, "symbolType": "M-1.435,0H1.435"}}
   }},
  {"data": {"name": "base"}, "mark": {"type": "line", "interpolate": "step-after", "strokeWidth": 2.8},
   "encoding": {
    "x": {"field": "x", "type": "quantitative", "title": "Reduction in HIV−1 RNA (log) at week 8"},
    "y": {"field": "y", "type": "quantitative", "title": "Proportion of Patients"},
    "color": {"field": "s", "type": "nominal", "scale": {"domain": ["WKM(u,5%)","WKM(u,10%)","WKM(N(0.1))","WKM(N(0.25))","KM FO","KM PO"], "range": ["#FF5555","#E22D2D","#7FE600","#4B8B00","#000000","#000000"]}, "legend": {"title": null, "orient": "none", "legendX": 134, "legendY": 224, "symbolType": "M-1.435,0H1.435"}},
    "strokeDash": {"field": "s", "type": "nominal", "scale": {"domain": ["WKM(u,5%)","WKM(u,10%)","WKM(N(0.1))","WKM(N(0.25))","KM FO","KM PO"], "range": [[1,0],[1,0],[1,0],[1,0],[1,0],[10,10]]}, "legend": {"title": null, "orient": "none", "legendX": 134, "legendY": 224, "symbolType": "M-1.435,0H1.435"}}
   }},
  {"data": {"name": "base"}, "transform": [{"filter": "datum.s == 'KM FO' && datum.x <= -1.1"}], "mark": {"type": "line", "interpolate": "step-after", "strokeWidth": 2.8, "color": "#4B8B00"},
   "encoding": {"x": {"field": "x", "type": "quantitative", "title": "Reduction in HIV−1 RNA (log) at week 8"}, "y": {"field": "y", "type": "quantitative", "title": "Proportion of Patients"}}},
  {"data": {"name": "wm"}, "mark": {"type": "text", "angle": 36, "fontSize": 109, "color": "#48B2EE", "opacity": 0.3, "align": "center", "baseline": "middle", "font": "Liberation Sans"},
   "encoding": {"text": {"field": "t"},
    "x": {"datum": -3.111, "type": "quantitative", "title": "Reduction in HIV−1 RNA (log) at week 8"},
    "y": {"datum": 1.008, "type": "quantitative", "title": "Proportion of Patients"}}}
 ]
}
]
}
